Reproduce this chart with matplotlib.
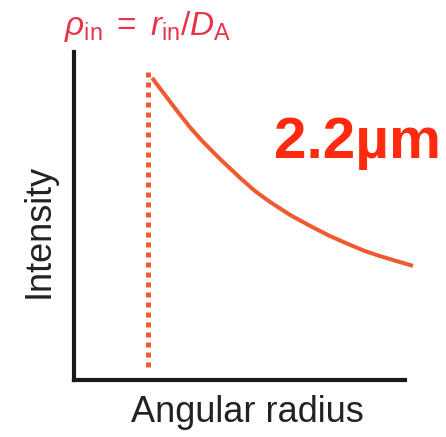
import numpy as np
import matplotlib.pyplot as plt

plt.rcParams.update({
    'font.family': 'Liberation Sans',
    'mathtext.fontset': 'custom',
    'mathtext.rm': 'Liberation Sans',
    'mathtext.it': 'Liberation Sans:italic',
})

# angular radius / intensity in axis units (0..1)
radius = [0.236, 0.275, 0.314, 0.350, 0.387, 0.441, 0.502, 0.547, 0.592,
          0.653, 0.713, 0.773, 0.834, 0.879, 0.924, 0.973, 1.024]
intensity = [0.921, 0.869, 0.817, 0.771, 0.729, 0.674, 0.616, 0.576, 0.543,
             0.503, 0.470, 0.439, 0.412, 0.393, 0.378, 0.363, 0.348]
rho_in = 0.224
cutoff_range = [0.04, 0.94]
size_label = '2.2µm'

fig = plt.figure(figsize=(4.46, 4.37), dpi=100)
ax = fig.add_axes([74 / 446, 57 / 437, 331 / 446, 328 / 437])
ax.set_xlim(0, 1)
ax.set_ylim(0, 1)

ax.plot(radius, intensity, color='#f05a30', lw=2.9, clip_on=False,
        solid_capstyle='butt', solid_joinstyle='round')
ax.plot([rho_in, rho_in], cutoff_range, color='#f05a30', lw=3.6,
        linestyle=(0, (1, 1)), dash_capstyle='butt')

for s in ['top', 'right']:
    ax.spines[s].set_visible(False)
for s in ['left', 'bottom']:
    ax.spines[s].set_linewidth(3)
    ax.spines[s].set_color('#1a1a1a')
    ax.spines[s].set_capstyle('projecting')
ax.set_xticks([])
ax.set_yticks([])

ax.set_xlabel('Angular radius', fontsize=26, color='#222222')
ax.set_ylabel('Intensity', fontsize=26, color='#222222')
ax.xaxis.set_label_coords(0.523, -0.045, transform=ax.transAxes)
ax.xaxis.label.set_va('top')
ax.yaxis.set_label_coords(-0.051, 0.454, transform=ax.transAxes)

fig.text(64 / 446, 1 - 35 / 437,
         r'$\rho_{\mathrm{in}}\,$ = $\,r_{\mathrm{in}}$/$D_{\mathrm{A}}$',
         fontsize=24, color='#e8344a', ha='left', va='baseline')
fig.text(358 / 446, 1 - 143 / 437, size_label, fontsize=42, fontweight='bold',
         color='#ff2a10', ha='center', va='center')

fig.savefig('out.png', dpi=100)
